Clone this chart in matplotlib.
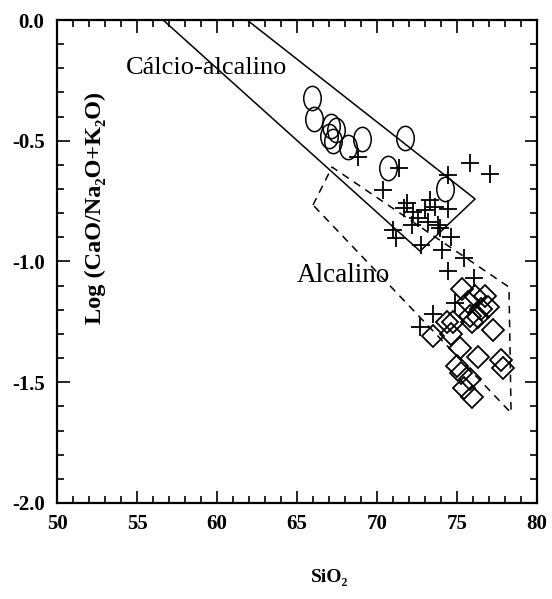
import numpy as np
import matplotlib
matplotlib.use("Agg")
import matplotlib.pyplot as plt
from matplotlib.path import Path
from matplotlib.transforms import Affine2D
from matplotlib.ticker import MultipleLocator

plt.rcParams['font.family'] = ['Liberation Serif', 'DejaVu Serif']

# field boundaries (SiO2, log ratio)
calc_x = [56.63, 72.69, 76.13, 61.88]
calc_y = [0.0, -0.957, -0.741, 0.0]
alc_x = [66.0, 67.19, 78.25, 78.38, 66.0]
alc_y = [-0.766, -0.609, -1.106, -1.627, -0.766]

# open circles
circ_x = [65.94, 66.06, 67.13, 67.44, 67.0, 67.25, 68.19, 69.06, 71.75, 70.69, 74.25]
circ_y = [-0.323, -0.410, -0.439, -0.455, -0.480, -0.501, -0.526, -0.493, -0.489, -0.613, -0.700]

# crosses
plus_x = [68.81, 71.38, 70.38, 75.81, 77.06, 74.44, 71.88, 71.69, 72.25, 72.56,
          73.0, 73.63, 74.44, 73.81, 73.19, 71.0, 71.19, 74.63, 72.75, 73.94,
          74.06, 75.44, 74.44, 76.06, 74.88, 73.5, 72.69, 73.31, 72.19]
plus_y = [-0.567, -0.613, -0.704, -0.592, -0.638, -0.642, -0.758, -0.778, -0.795, -0.820,
          -0.787, -0.774, -0.783, -0.849, -0.836, -0.870, -0.903, -0.899, -0.932, -0.861,
          -0.952, -0.986, -1.039, -1.068, -1.172, -1.217, -1.271, -0.745, -0.849]

# diamonds
diam_x = [75.31, 76.13, 76.75, 75.69, 76.94, 76.31, 75.81, 74.38, 74.75, 77.25,
          73.5, 74.63, 75.19, 76.31, 75.0, 75.25, 75.81, 75.44, 75.94, 77.75,
          77.88, 76.5, 75.94]
diam_y = [-1.114, -1.143, -1.143, -1.168, -1.188, -1.230, -1.226, -1.251, -1.251, -1.284,
          -1.308, -1.300, -1.358, -1.395, -1.433, -1.462, -1.487, -1.524, -1.561, -1.408,
          -1.441, -1.197, -1.251]

fig = plt.figure(figsize=(5.52, 5.99), dpi=100)
ax = fig.add_axes([0.1033, 0.1603, 0.8695, 0.8063])

ax.plot(calc_x, calc_y, color='black', lw=1.1)
ax.plot(alc_x, alc_y, color='black', lw=1.1, ls=(0, (5, 4)))

ellipse = Path.unit_circle().transformed(Affine2D().scale(0.72, 1.0))
ax.plot(circ_x, circ_y, ls='none', marker=ellipse, ms=17.5, mfc='none', mec='black', mew=1.1)
ax.plot(plus_x, plus_y, ls='none', marker='+', ms=13, mec='black', mew=1.3)
ax.plot(diam_x, diam_y, ls='none', marker='D', ms=11, mfc='none', mec='black', mew=1.3)

ax.text(54.3, -0.2, 'Cálcio-alcalino', fontsize=19, ha='left', va='center')
ax.text(65.0, -1.056, 'Alcalino', fontsize=19.5, ha='left', va='center')
ax.text(52.4, -0.78, 'Log (CaO/Na₂O+K₂O)', fontsize=17.5, fontweight='bold',
        rotation=90, ha='center', va='center')
fig.text(330 / 552, 1 - 578 / 599, 'SiO₂', fontsize=14, fontweight='bold',
         ha='center', va='center')

ax.set_xlim(50, 80)
ax.set_ylim(-2.0, 0.0)
ax.xaxis.set_major_locator(MultipleLocator(5))
ax.xaxis.set_minor_locator(MultipleLocator(1))
ax.yaxis.set_major_locator(MultipleLocator(0.5))
ax.yaxis.set_minor_locator(MultipleLocator(0.1))
ax.set_yticks([0.0, -0.5, -1.0, -1.5, -2.0])
ax.set_yticklabels(['0.0', '-0.5', '-1.0', '-1.5', '-2.0'])
ax.tick_params(which='both', direction='in', top=True, right=True, width=1.2)
ax.tick_params(which='major', length=9, labelsize=15)
ax.tick_params(which='minor', length=5)
ax.tick_params(axis='x', pad=8)
ax.tick_params(axis='y', pad=9)
for lab in ax.get_xticklabels() + ax.get_yticklabels():
    lab.set_fontweight('bold')
for s in ax.spines.values():
    s.set_linewidth(1.6)

plt.savefig("out.png", dpi=100)
